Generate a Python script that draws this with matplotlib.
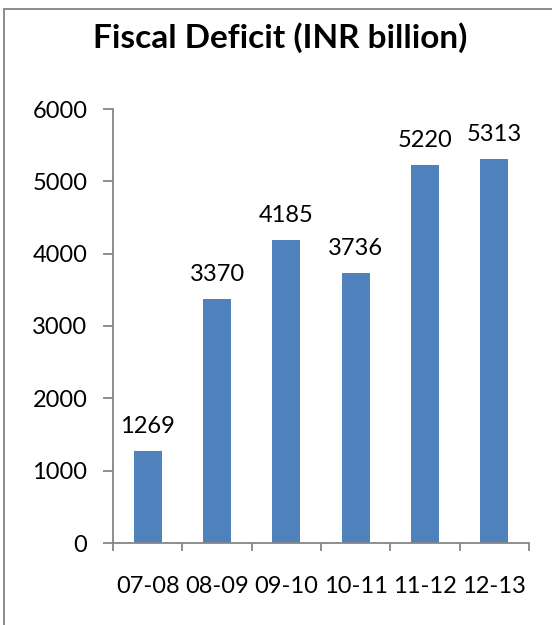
import matplotlib
matplotlib.use("Agg")
import matplotlib.pyplot as plt
from matplotlib.patches import Rectangle

# Fiscal deficit by fiscal year, INR billion
years = ["07-08", "08-09", "09-10", "10-11", "11-12", "12-13"]
deficit = [1269, 3370, 4185, 3736, 5220, 5313]
y_ticks = [0, 1000, 2000, 3000, 4000, 5000, 6000]

BAR_COLOR = "#4F81BD"
AXIS_COLOR = "#868686"
FONT = ["Lato", "DejaVu Sans"]

fig = plt.figure(figsize=(5.52, 6.25), dpi=100)
fig.patch.set_facecolor("white")

# chart-area frame
fig.add_artist(Rectangle((4 / 552, -0.05), 1.2, 1 - 9 / 625 + 0.05,
                         transform=fig.transFigure, fill=False,
                         edgecolor="#8C8C8C", linewidth=1.4))

ax = fig.add_axes([113 / 552, 1 - 543 / 625, (529 - 113) / 552, (543 - 109) / 625])
x = list(range(len(years)))
ax.bar(x, deficit, width=0.4, color=BAR_COLOR, zorder=2)

ax.set_xlim(-0.5, len(years) - 0.5)
ax.set_ylim(0, 6000)
ax.set_yticks(y_ticks)
ax.set_yticklabels([str(v) for v in y_ticks], fontfamily=FONT, fontsize=17)
# category boundaries carry the tick marks, centres carry the labels
ax.set_xticks([i - 0.5 for i in range(len(years) + 1)])
ax.set_xticklabels([])
ax.set_xticks(x, minor=True)
ax.set_xticklabels(years, minor=True, fontfamily=FONT, fontsize=17)

ax.tick_params(axis="y", length=7, width=1.3, color=AXIS_COLOR, pad=11.5)
ax.tick_params(axis="x", which="major", length=6, width=1.3, color=AXIS_COLOR, direction="out")
ax.tick_params(axis="x", which="minor", length=0, pad=24)

for side in ("top", "right"):
    ax.spines[side].set_visible(False)
for side in ("left", "bottom"):
    ax.spines[side].set_color(AXIS_COLOR)
    ax.spines[side].set_linewidth(1.3)

for xi, v in zip(x, deficit):
    ax.annotate(str(v), (xi, v), xytext=(0, 13), textcoords="offset points",
                ha="center", va="baseline", fontfamily=FONT, fontsize=17)

fig.text(280 / 552, 1 - 48 / 625, "Fiscal Deficit (INR billion)", ha="center", va="baseline",
         fontfamily=FONT, fontweight="bold", fontsize=24)

fig.savefig("out.png", dpi=100, facecolor="white")
